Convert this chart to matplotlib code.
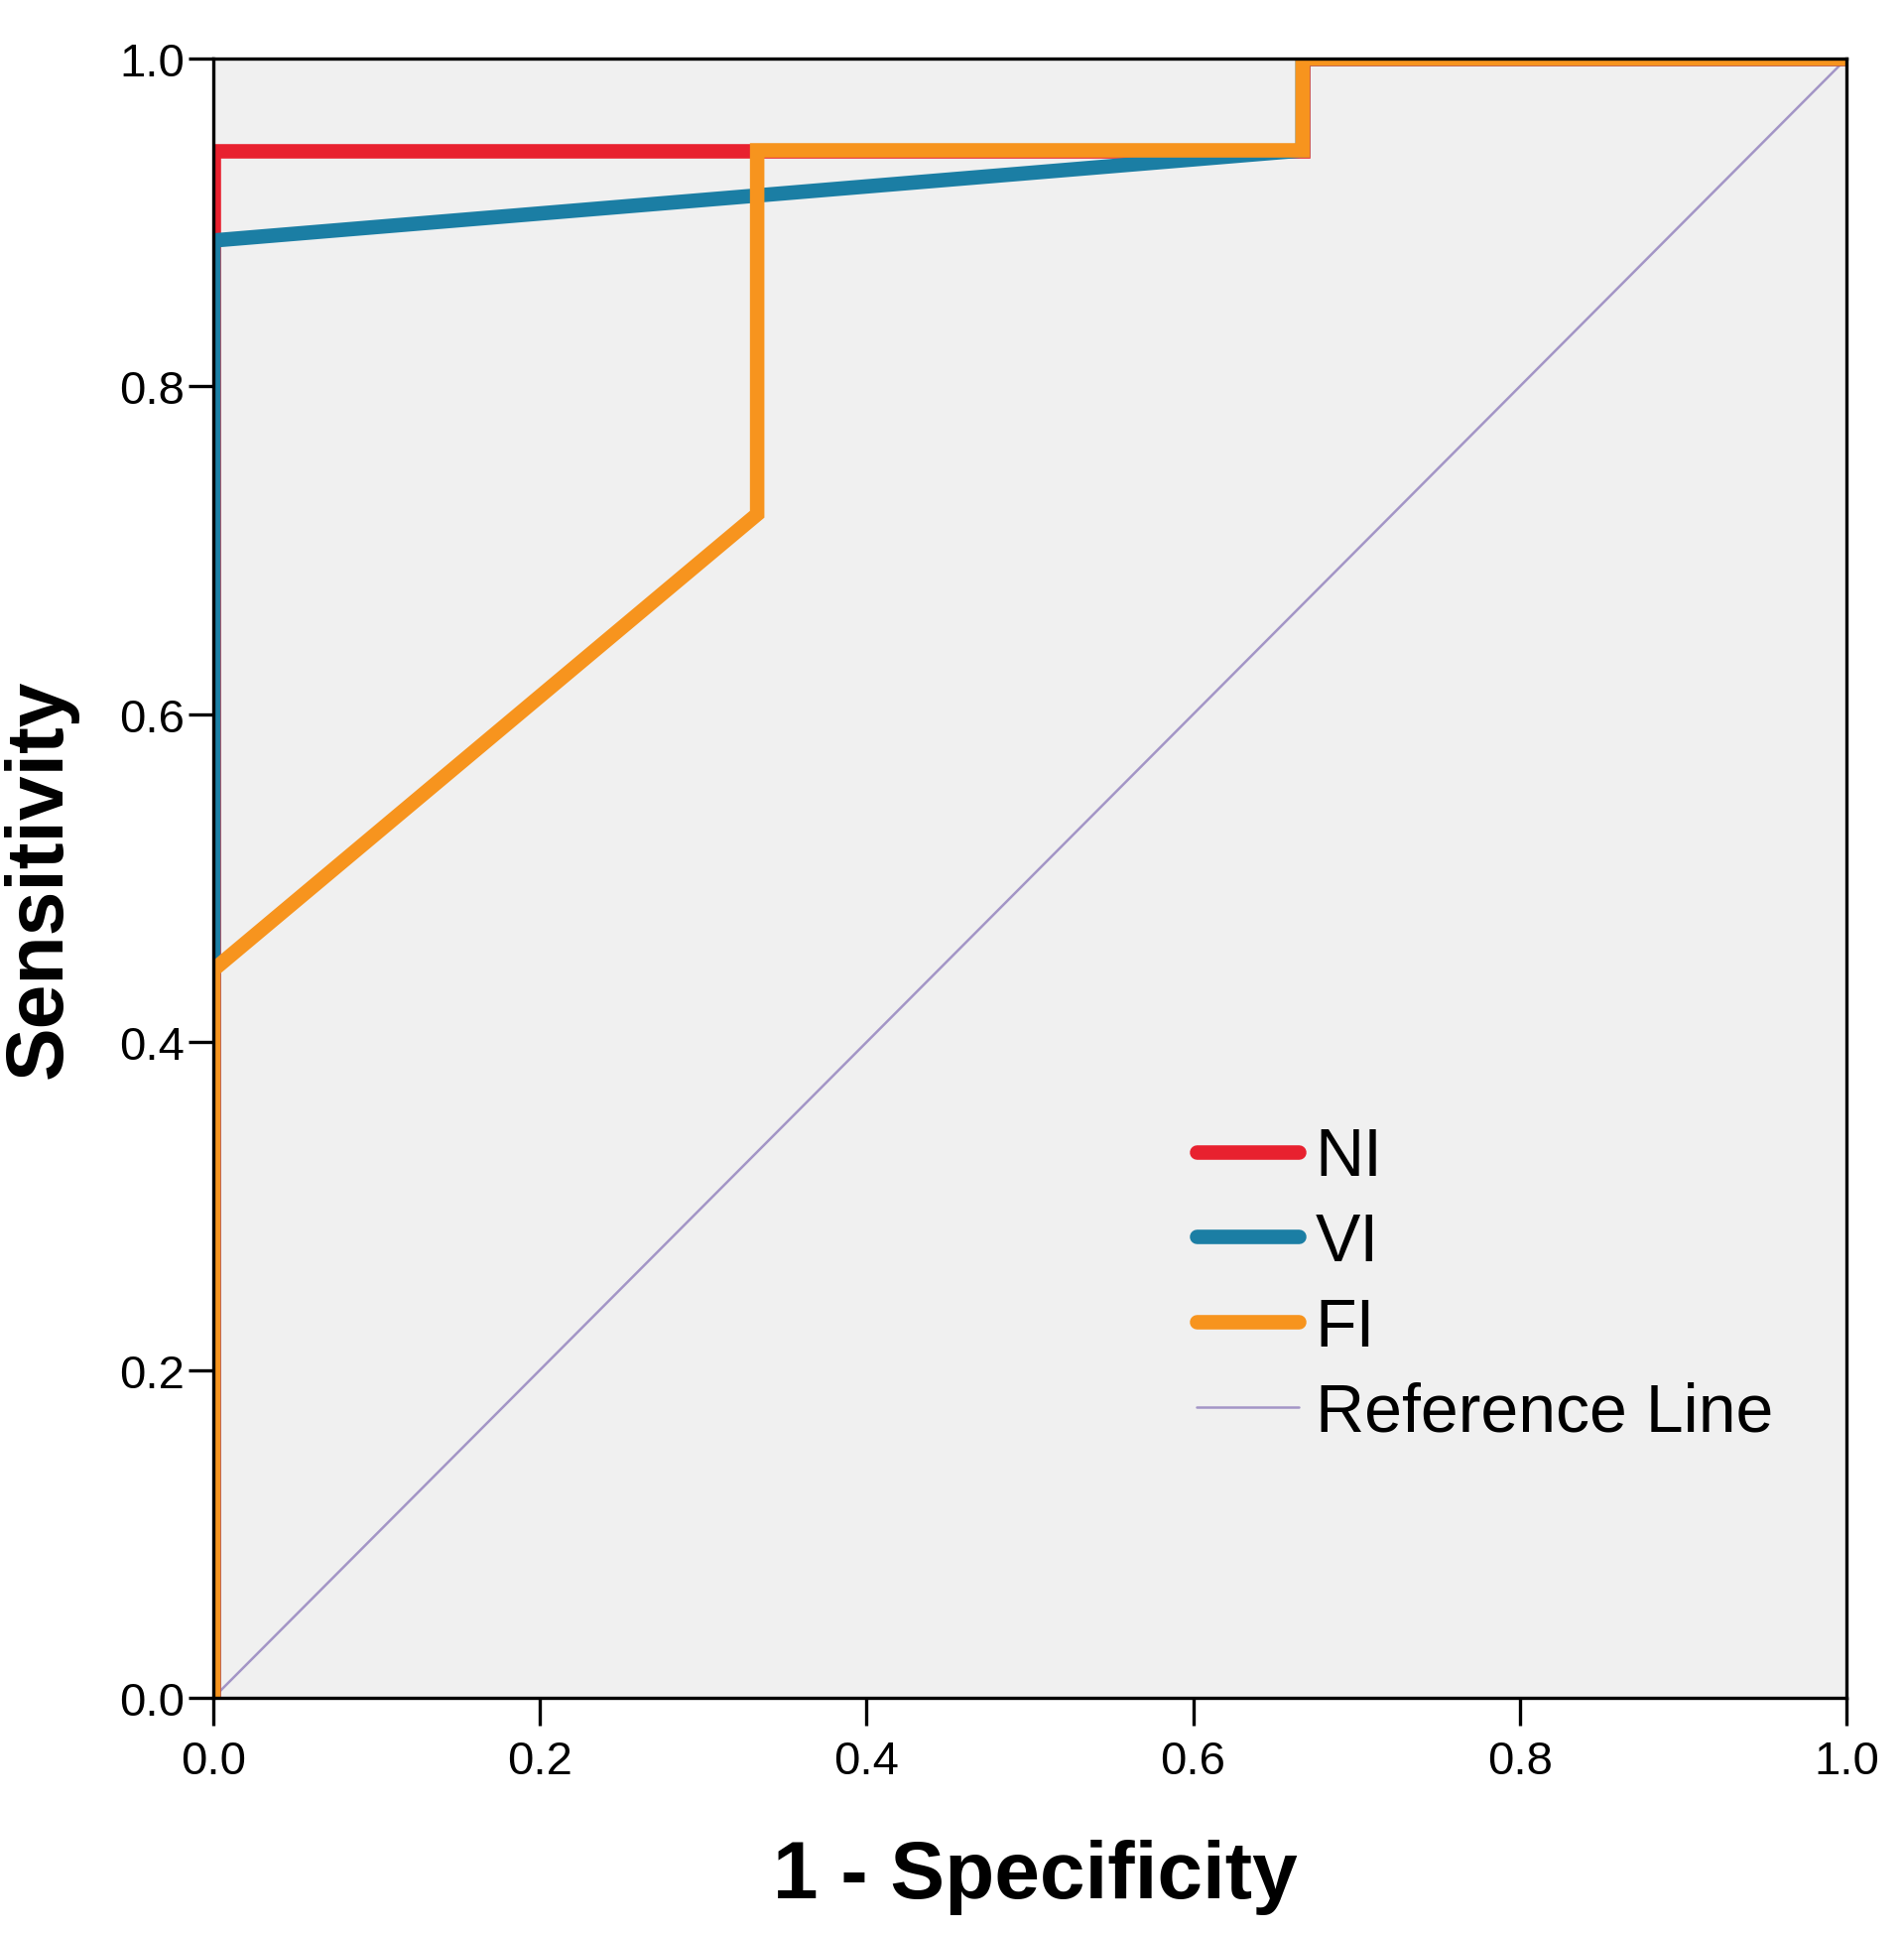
"""ROC curves for the NI, VI and FI indices, drawn in an SPSS-like style."""
import matplotlib
matplotlib.use("Agg")
import matplotlib.pyplot as plt

# ROC coordinates (1 - specificity, sensitivity)
ni_fpr = [0.0, 0.0, 0.667, 0.667, 1.0]
ni_tpr = [0.0, 0.944, 0.944, 1.0, 1.0]

vi_fpr = [0.0, 0.0, 0.667, 0.667, 1.0]
vi_tpr = [0.0, 0.889, 0.944, 1.0, 1.0]

fi_fpr = [0.0, 0.0, 0.333, 0.333, 0.667, 0.667, 1.0]
fi_tpr = [0.0, 0.444, 0.722, 0.944, 0.944, 1.0, 1.0]

ref_x = [0.0, 1.0]
ref_y = [0.0, 1.0]

tick_values = [0.0, 0.2, 0.4, 0.6, 0.8, 1.0]
tick_labels = ["0.0", "0.2", "0.4", "0.6", "0.8", "1.0"]

plt.rcParams["font.family"] = ["Liberation Sans", "DejaVu Sans"]

W, H, DPI = 1919, 1949, 100
fig = plt.figure(figsize=(W / DPI, H / DPI), dpi=DPI)

# axes box in pixels: left 215, right 1861, top 60, bottom 1712
left, right, top, bottom = 215, 1861, 60, 1712
ax = fig.add_axes([left / W, 1 - bottom / H, (right - left) / W, (bottom - top) / H])
ax.set_facecolor("#f0f0f0")

lw = 10.5
ax.plot(ref_x, ref_y, color="#a395c6", linewidth=1.8, label="Reference Line", zorder=1)
ax.plot(ni_fpr, ni_tpr, color="#e8212f", linewidth=lw, label="NI", zorder=2,
        solid_joinstyle="miter")
ax.plot(vi_fpr, vi_tpr, color="#1b7ea4", linewidth=lw, label="VI", zorder=3,
        solid_joinstyle="miter")
ax.plot(fi_fpr, fi_tpr, color="#f7941e", linewidth=lw, label="FI", zorder=4,
        solid_joinstyle="miter")

ax.set_xlim(0, 1)
ax.set_ylim(0, 1)
ax.set_xticks(tick_values)
ax.set_xticklabels(tick_labels)
ax.set_yticks(tick_values)
ax.set_yticklabels(tick_labels)

for side in ["left", "right", "top", "bottom"]:
    ax.spines[side].set_linewidth(2.4)
    ax.spines[side].set_color("black")
    ax.spines[side].set_zorder(5)

ax.tick_params(axis="x", direction="out", length=20, width=2.4, pad=10, labelsize=34)
ax.tick_params(axis="y", direction="out", length=18, width=2.4, pad=3, labelsize=34)

ax.set_xlabel("1 - Specificity", fontsize=59, fontweight="bold")
ax.set_ylabel("Sensitivity", fontsize=58, fontweight="bold")
ax.xaxis.set_label_coords(0.503, -0.109)
ax.xaxis.label.set_va("center")
ax.yaxis.set_label_coords(-0.106, 0.5)
ax.yaxis.label.set_va("center")

handles, labels = ax.get_legend_handles_labels()
order = [1, 2, 3, 0]
leg = ax.legend([handles[i] for i in order], [labels[i] for i in order],
                loc="upper left", bbox_to_anchor=(0.602, 0.349),
                frameon=False, fontsize=49, handlelength=1.51, handletextpad=0.25,
                labelspacing=0.32, borderpad=0, borderaxespad=0)
for line in leg.get_lines():
    line.set_solid_capstyle("round")

fig.savefig("out.png", dpi=DPI)
